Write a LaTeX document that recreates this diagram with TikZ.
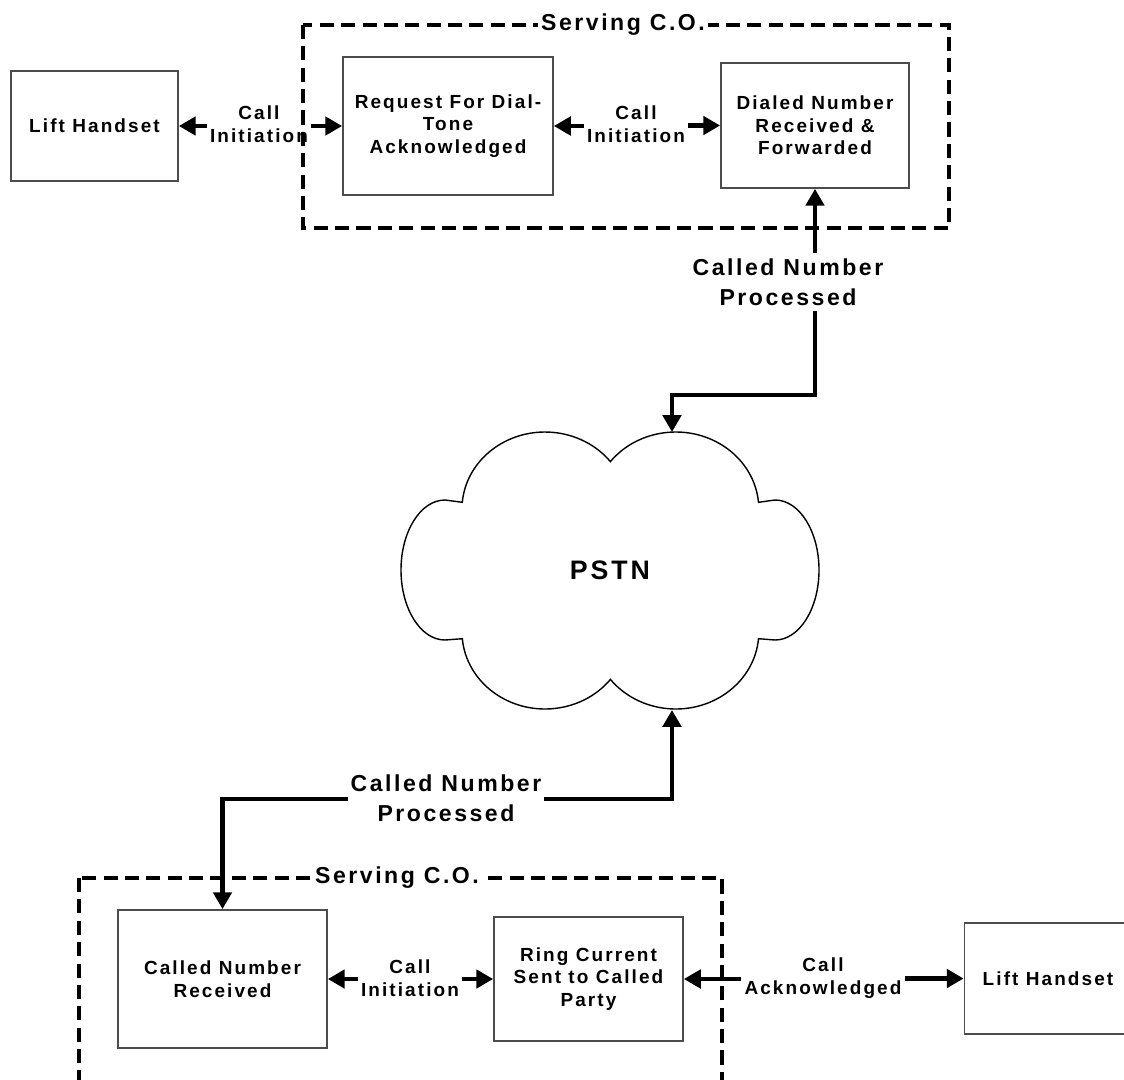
\documentclass[tikz,border=0pt]{standalone}
\usepackage{fontspec}
\setmainfont{Liberation Sans}[LetterSpace=11]
\usetikzlibrary{arrows.meta}
\begin{document}
\begin{tikzpicture}[x=0.025cm,y=-0.025cm,
  box/.style={draw=black!70, line width=1.2pt, align=center, inner sep=0pt,
    font=\fontsize{13.5}{16}\selectfont\bfseries},
  lbl/.style={align=center, inner xsep=2pt, inner ysep=1pt,
    font=\fontsize{13.5}{16}\selectfont\bfseries},
  biglbl/.style={align=center, fill=white, inner xsep=2pt, inner ysep=4pt,
    font=\fontsize{16.4}{21.3}\selectfont\bfseries},
  cobox/.style={line width=2.5pt, dash pattern=on 10pt off 5.2pt},
  tip/.style={line width=2.9pt, -{Triangle[length=12pt,width=13pt]}},
  link/.style={line width=2.9pt, {Triangle[length=12pt,width=13pt]}-{Triangle[length=12pt,width=13pt]}}]
\useasboundingbox (0,0) rectangle (1124,1079);
% serving C.O. frames
\draw[cobox] (303,25) rectangle (949,228);
\draw[cobox] (79,878) rectangle (722,1120);
\node[biglbl, inner ysep=1pt] (co1lbl) at (623,25) {Serving C.O.};
\node[biglbl, inner ysep=1pt] (co2lbl) at (397,878) {Serving C.O.};
% calling side
\node[box, minimum width=4.175cm, minimum height=2.75cm] (lift1) at (94.5,126) {Lift Handset};
\node[box, minimum width=5.25cm, minimum height=3.45cm] (req) at (448,126) {Request For Dial-\\Tone\\Acknowledged};
\node[box, minimum width=4.7cm, minimum height=3.125cm] (dialed) at (815,125.5) {Dialed Number\\Received \&\\Forwarded};
\node[lbl] (ci1) at (259,124) {Call\\Initiation};
\node[lbl] (ci2) at (636,124) {Call\\Initiation};
\draw[tip] (ci1.west |- lift1.east) -- (lift1.east);
\draw[tip] (ci1.east |- req.west) -- (req.west);
\draw[tip] (ci2.west |- req.east) -- (req.east);
\draw[tip] (ci2.east |- dialed.west) -- (dialed.west);
% PSTN cloud
\draw[line width=1pt] (462.3,502.3)
  arc[start angle=185, end angle=322, x radius=83, y radius=77]
  arc[start angle=218, end angle=355, x radius=83, y radius=77]
  -- (775,500) arc[start angle=-90, end angle=90, x radius=44, y radius=70]
  -- (758.5,638.7)
  arc[start angle=5, end angle=142, x radius=83, y radius=77]
  arc[start angle=38, end angle=175, x radius=83, y radius=77]
  -- (445,640) arc[start angle=90, end angle=270, x radius=44, y radius=70]
  -- cycle;
\node[font=\fontsize{19}{23}\selectfont\bfseries] (pstn) at (610,570) {PSTN};
\coordinate (cloudN) at (672,432);
\coordinate (cloudS) at (672,710);
\draw[link] (dialed.south) -- ++(0,206) -| (cloudN);
\node[biglbl] (cnp1) at (788,282) {Called Number\\Processed};
% called side
\node[box, minimum width=5.225cm, minimum height=3.45cm] (cnr) at (222.5,979) {Called Number\\Received};
\node[box, minimum width=4.725cm, minimum height=3.1cm] (ring) at (588.5,979) {Ring Current\\Sent to Called\\Party};
\node[box, minimum width=4.175cm, minimum height=2.775cm] (lift2) at (1048,978.5) {Lift Handset};
\node[lbl] (ci3) at (410,978) {Call\\Initiation};
\node[lbl] (ack) at (823,978) {Call\\Acknowledged};
\draw[tip] (ci3.west |- cnr.east) -- (cnr.east);
\draw[tip] (ci3.east |- ring.west) -- (ring.west);
\draw[tip] (ack.west |- ring.east) -- (ring.east);
\draw[tip] (ack.east |- lift2.west) -- (lift2.west);
\draw[link] (cloudS) -- ++(0,89) -| (cnr.north);
\node[biglbl] (cnp2) at (446,798.5) {Called Number\\Processed};
\end{tikzpicture}
\end{document}
